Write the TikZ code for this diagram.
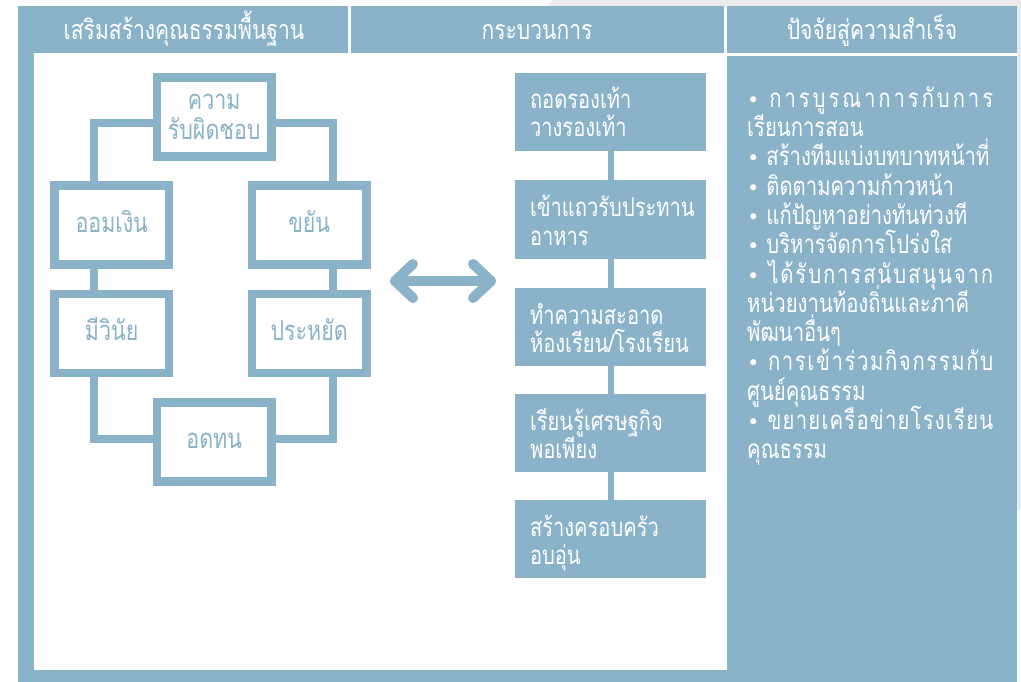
\documentclass[tikz,border=0pt]{standalone}
\usepackage{fontspec}
\setmainfont{Loma}[Script=Thai, FakeStretch=0.78]
\newfontfamily\bulletfont{DejaVu Sans}
\definecolor{blu}{RGB}{138,178,200}
\definecolor{grayback}{RGB}{235,235,235}
\newcommand\jf{\hspace{0pt plus 1fil}}
\newcommand\bul{{\bulletfont\fontsize{21}{25}\selectfont •}}
\begin{document}
\begin{tikzpicture}[x=1pt,y=-1pt,
  ring/.style={draw=blu, line width=8.4pt, fill=white, minimum width=114.5pt, minimum height=79pt, inner sep=0pt},
  ringtext/.style={text=blu, font=\fontsize{27.5}{30}\selectfont, inner sep=0pt, anchor=base},
  conn/.style={draw=blu, line width=8.3pt},
  pbox/.style={fill=blu, minimum width=191pt, minimum height=78pt, inner sep=0pt},
  ptext/.style={text=white, font=\fontsize{25.8}{30}\selectfont, inner sep=0pt, anchor=base west},
  pconn/.style={draw=blu, line width=6pt},
  htext/.style={text=white, font=\fontsize{27}{30}\selectfont, inner sep=0pt, anchor=base},
  rtext/.style={text=white, font=\fontsize{26}{30}\selectfont, inner sep=0pt, anchor=base west},
  arr/.style={draw=blu, line width=10pt, line cap=round, line join=round}
]
\useasboundingbox (0,0) rectangle (1021,682);
% background decoration
\fill[grayback] (552,0) -- (1021,0) -- (1021,510) -- (1017,510) -- (546,8) -- cycle;
% frame
\fill[blu] (18,6) rectangle (1017,682);
\fill[white] (34,52.7) rectangle (727,670);
\fill[white] (348,6) rectangle (350.5,52.7);
\fill[white] (724,6) rectangle (727,52.7);
\fill[white] (727,52.7) rectangle (1017,55.7);
% headers
\node[htext] (h1) at (184,39.5) {เสริมสร้างคุณธรรมพื้นฐาน};
\node[htext] (h2) at (537,39.5) {กระบวนการ};
\node[htext] (h3) at (872,39.5) {ปัจจัยสู่ความสำเร็จ};
% ring of virtues
\node[ring] (rb) at (214.2,117) {};
\node[ring] (om) at (111.7,225) {};
\node[ring] (ky) at (309.2,225) {};
\node[ring] (mv) at (111.7,333.2) {};
\node[ring] (pr) at (309.2,333.2) {};
\node[ring] (ot) at (214.2,442) {};
\draw[conn] ([yshift=-6.3pt]rb.west) -| ([xshift=-17.7pt]om.north);
\draw[conn] ([yshift=-6.3pt]rb.east) -| ([xshift=23.5pt]ky.north);
\draw[conn] ([xshift=-17.7pt]om.south) -- ([xshift=-17.7pt]mv.north);
\draw[conn] ([xshift=23.5pt]ky.south) -- ([xshift=23.5pt]pr.north);
\draw[conn] ([xshift=-17.7pt]mv.south) |- ([yshift=3pt]ot.west);
\draw[conn] ([xshift=23.5pt]pr.south) |- ([yshift=3pt]ot.east);
\node[ringtext] (rb1) at ([yshift=7pt]rb.center) {ความ};
\node[ringtext] (rb2) at ([yshift=-23pt]rb.center) {รับผิดชอบ};
\node[ringtext] (omt) at ([yshift=-7.5pt]om.center) {ออมเงิน};
\node[ringtext] (kyt) at ([yshift=-7.5pt]ky.center) {ขยัน};
\node[ringtext] (mvt) at ([yshift=-7pt]mv.center) {มีวินัย};
\node[ringtext] (prt) at ([yshift=-7pt]pr.center) {ประหยัด};
\node[ringtext] (ott) at ([yshift=-6pt]ot.center) {อดทน};
% double arrow
\coordinate (aL) at (395,281);
\coordinate (aR) at (491,281);
\draw[arr] (aL) -- (aR);
\draw[arr] ([shift={(18,-17)}]aL) -- (aL) -- ([shift={(18,17)}]aL);
\draw[arr] ([shift={(-18,-17)}]aR) -- (aR) -- ([shift={(-18,17)}]aR);
% process
\node[pbox] (p1) at (610.5,112) {};
\node[pbox] (p2) at (610.5,219.5) {};
\node[pbox] (p3) at (610.5,327) {};
\node[pbox] (p4) at (610.5,433) {};
\node[pbox] (p5) at (610.5,539) {};
\draw[pconn] (p1.south) -- (p2.north);
\draw[pconn] (p2.south) -- (p3.north);
\draw[pconn] (p3.south) -- (p4.north);
\draw[pconn] (p4.south) -- (p5.north);
\node[ptext] (p1a) at ([xshift=15pt,yshift=3.5pt]p1.west) {ถอดรองเท้า};
\node[ptext] (p1b) at ([xshift=15pt,yshift=-25pt]p1.west) {วางรองเท้า};
\node[ptext] (p2a) at ([xshift=15pt,yshift=3pt]p2.west) {เข้าแถวรับประทาน};
\node[ptext] (p2b) at ([xshift=15pt,yshift=-25.5pt]p2.west) {อาหาร};
\node[ptext] (p3a) at ([xshift=15pt,yshift=3pt]p3.west) {ทำความสะอาด};
\node[ptext] (p3b) at ([xshift=15pt,yshift=-25.5pt]p3.west) {ห้องเรียน/โรงเรียน};
\node[ptext] (p4a) at ([xshift=15pt,yshift=3pt]p4.west) {เรียนรู้เศรษฐกิจ};
\node[ptext] (p4b) at ([xshift=15pt,yshift=-25.5pt]p4.west) {พอเพียง};
\node[ptext] (p5a) at ([xshift=15pt,yshift=3pt]p5.west) {สร้างครอบครัว};
\node[ptext] (p5b) at ([xshift=15pt,yshift=-25.5pt]p5.west) {อบอุ่น};
% success factors
\node[rtext] (r1) at (747,107.5) {\makebox[246pt][s]{\bul\ \jf ก\jf า\jf ร\jf บู\jf ร\jf ณ\jf า\jf ก\jf า\jf ร\jf กั\jf บ\jf ก\jf า\jf ร}};
\node[rtext] (r2) at (747,136.75) {เรียนการสอน};
\node[rtext] (r3) at (747,166) {\bul\ สร้างทีมแบ่งบทบาทหน้าที่};
\node[rtext] (r4) at (747,195.25) {\bul\ ติดตามความก้าวหน้า};
\node[rtext] (r5) at (747,224.5) {\bul\ แก้ปัญหาอย่างทันท่วงที};
\node[rtext] (r6) at (747,253.75) {\bul\ บริหารจัดการโปร่งใส};
\node[rtext] (r7) at (747,283) {\makebox[246pt][s]{\bul\ \jf ไ\jf ด้\jf รั\jf บ\jf ก\jf า\jf ร\jf ส\jf นั\jf บ\jf ส\jf นุ\jf น\jf จ\jf า\jf ก}};
\node[rtext] (r8) at (747,312.25) {หน่วยงานท้องถิ่นและภาคี};
\node[rtext] (r9) at (747,341.5) {พัฒนาอื่นๆ};
\node[rtext] (r10) at (747,370.75) {\makebox[246pt][s]{\bul\ \jf ก\jf า\jf ร\jf เ\jf ข้\jf า\jf ร่\jf ว\jf ม\jf กิ\jf จ\jf ก\jf ร\jf ร\jf ม\jf กั\jf บ}};
\node[rtext] (r11) at (747,400) {ศูนย์คุณธรรม};
\node[rtext] (r12) at (747,429.25) {\makebox[246pt][s]{\bul\ \jf ข\jf ย\jf า\jf ย\jf เ\jf ค\jf รื\jf อ\jf ข่\jf า\jf ย\jf โ\jf ร\jf ง\jf เ\jf รี\jf ย\jf น}};
\node[rtext] (r13) at (747,458.5) {คุณธรรม};
\end{tikzpicture}
\end{document}
